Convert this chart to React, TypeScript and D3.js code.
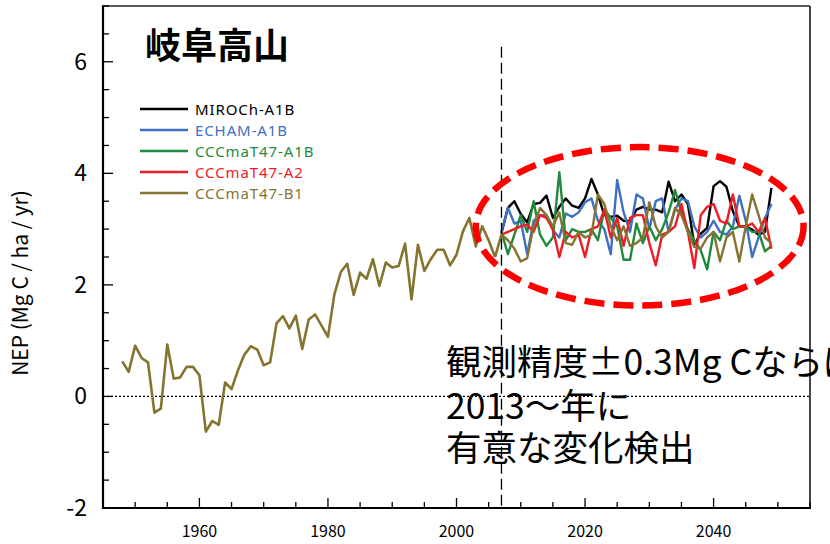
import React from 'react';
import * as d3 from 'd3';

// ---------- data ----------
const HIST_START = 1948;
const histNEP = [
  0.63, 0.44, 0.91, 0.69, 0.61, -0.29, -0.22, 0.93, 0.32, 0.34,
  0.53, 0.53, 0.38, -0.63, -0.44, -0.51, 0.25, 0.13, 0.47, 0.75,
  0.90, 0.84, 0.56, 0.61, 1.31, 1.44, 1.22, 1.45, 0.85, 1.38,
  1.47, 1.27, 1.07, 1.83, 2.23, 2.38, 1.82, 2.22, 2.11, 2.46,
  1.98, 2.40, 2.31, 2.34, 2.74, 1.74, 2.72, 2.25, 2.46, 2.63,
  2.63, 2.35, 2.54, 2.96, 3.20, 2.69, 3.05, 2.80, 2.50,
];

const FUT_START = 2007;
const mirocA1B = [
  2.93, 3.38, 3.50, 3.27, 3.12, 3.45, 3.47, 3.60, 3.20, 3.40,
  3.55, 3.42, 3.38, 3.55, 3.90, 3.62, 3.25, 3.22, 3.24, 3.15,
  3.14, 3.35, 3.40, 3.35, 3.35, 3.30, 3.85, 3.50, 3.62, 3.45,
  2.72, 2.92, 3.02, 3.77, 3.86, 3.76, 3.32, 3.05, 3.05, 2.99,
  2.90, 2.95, 3.74,
];
const echamA1B = [
  2.95, 3.38, 3.10, 3.15, 2.55, 3.15, 3.25, 3.25, 2.98, 2.85,
  3.28, 3.22, 3.30, 3.48, 3.55, 3.15, 3.00, 2.55, 3.88, 3.30,
  2.95, 3.62, 3.55, 3.00, 3.50, 3.55, 2.95, 3.35, 3.55, 3.50,
  3.05, 2.85, 2.95, 3.15, 2.95, 2.90, 3.05, 3.60, 3.15, 2.50,
  2.85, 3.20, 3.45,
];
const cccmaA1B = [
  2.95, 2.55, 2.90, 3.25, 2.95, 3.50, 2.90, 2.70, 2.85, 4.02,
  2.80, 3.00, 2.95, 2.95, 3.00, 2.80, 3.35, 3.20, 3.05, 2.45,
  2.45, 3.10, 2.75, 3.05, 2.80, 3.00, 3.30, 3.70, 3.30, 3.00,
  2.80, 2.62, 2.28, 2.95, 2.80, 3.15, 3.00, 3.05, 3.05, 2.95,
  2.95, 2.60, 2.70,
];
const cccmaA2 = [
  2.90, 2.95, 3.00, 3.05, 3.08, 2.95, 3.25, 3.20, 3.00, 2.50,
  2.95, 2.85, 2.90, 2.50, 3.00, 3.05, 3.35, 2.85, 3.20, 2.70,
  3.20, 3.25, 3.25, 2.75, 2.35, 2.90, 2.95, 3.05, 3.45, 2.95,
  2.30, 3.25, 3.40, 3.45, 3.15, 3.10, 3.62, 3.05, 3.05, 3.10,
  2.95, 3.20, 2.65,
];
const cccmaB1 = [
  2.90, 2.80, 2.65, 2.42, 2.48, 3.05, 3.38, 3.25, 3.05, 3.30,
  2.75, 2.72, 2.95, 2.85, 2.90, 3.62, 3.45, 3.05, 2.80, 3.05,
  2.70, 2.75, 2.85, 3.48, 3.05, 2.85, 2.95, 3.38, 3.25, 2.95,
  2.68, 2.65, 2.85, 2.95, 2.42, 2.85, 2.95, 2.42, 3.05, 3.62,
  3.25, 2.85, 2.75,
];

const seriesNames = ['MIROCh-A1B', 'ECHAM-A1B', 'CCCmaT47-A1B', 'CCCmaT47-A2', 'CCCmaT47-B1'];
const seriesValues = [mirocA1B, echamA1B, cccmaA1B, cccmaA2, cccmaB1];
const seriesColors = ['#000000', '#3d6fc2', '#1f8a3c', '#ee1c25', '#857330'];
const HIST_COLOR = '#857330';

const xTickLabels = [1960, 1980, 2000, 2020, 2040];
const yTickLabels = [-2, 0, 2, 4, 6];

const TITLE = '岐阜高山';
const Y_LABEL = 'NEP (Mg C / ha / yr)';
const NOTE_LINES = ['観測精度±0.3Mg Cならば', '2013〜年に', '有意な変化検出'];
const SPLIT_YEAR = 2007;

// ---------- component ----------
export default function App() {
  const W = 830, H = 544;
  const left = 103, right = 810, top = 6, bottom = 508;
  const x = d3.scaleLinear().domain([1945, 2055]).range([left, right]);
  const y = d3.scaleLinear().domain([-2, 7]).range([bottom, top]);

  const line = d3.line<[number, number]>().x(d => x(d[0])).y(d => y(d[1]));
  const histPts: [number, number][] = histNEP.map((v, i) => [HIST_START + i, v]);
  const futPts = seriesValues.map(vals => vals.map((v, i) => [FUT_START + i, v] as [number, number]));
  // B1 continues the historical line
  const histToB1: [number, number][] = [histPts[histPts.length - 1], futPts[4][0]];

  const xMinor = d3.range(1945, 2056, 5);
  const yMinor = d3.range(-2, 7.01, 0.5);

  const font = "'Noto Sans CJK JP', 'Noto Sans', sans-serif";
  const drawOrder = [0, 1, 2, 3, 4];

  const ellCx = x(2028.5), ellCy = y(3.05);
  const ellRx = x(2054) - x(2028.5), ellRy = y(3.05 - 1.42) - y(3.05);

  return (
    <svg width={W} height={H} style={{ position: 'absolute', left: 0, top: 0, background: '#fff' }} fontFamily={font}>
      <rect x={0} y={0} width={W} height={H} fill="#fff" />
      {/* zero line */}
      <line x1={left} x2={right} y1={y(0)} y2={y(0)} stroke="#000" strokeWidth={1.2} strokeDasharray="2,2" />

      {/* historical */}
      <path d={line(histPts) || ''} fill="none" stroke={HIST_COLOR} strokeWidth={2.6} strokeLinejoin="round" />
      <path d={line(histToB1) || ''} fill="none" stroke={HIST_COLOR} strokeWidth={2.6} />

      {/* scenarios */}
      {drawOrder.map(k => (
        <path key={k} d={line(futPts[k]) || ''} fill="none" stroke={seriesColors[k]} strokeWidth={2.4} strokeLinejoin="round" />
      ))}

      {/* split line */}
      <line x1={x(SPLIT_YEAR)} x2={x(SPLIT_YEAR)} y1={y(6.27)} y2={bottom} stroke="#000" strokeWidth={1.3} strokeDasharray="11,5" />

      {/* ellipse */}
      <ellipse cx={ellCx} cy={ellCy} rx={ellRx} ry={ellRy} fill="none" stroke="#ff0000" strokeWidth={6.5} strokeDasharray="20,9" />

      {/* frame */}
      <line x1={left} x2={right} y1={top} y2={top} stroke="#222" strokeWidth={1.5} />
      <line x1={right} x2={right} y1={top} y2={bottom} stroke="#333" strokeWidth={1.8} />
      <line x1={left} x2={left} y1={top - 0.75} y2={bottom + 1} stroke="#000" strokeWidth={2.2} />
      <line x1={left - 1} x2={right + 1} y1={bottom} y2={bottom} stroke="#000" strokeWidth={2.2} />

      {/* x ticks */}
      {xMinor.map(t => {
        const major = xTickLabels.includes(t);
        return <line key={'xt' + t} x1={x(t)} x2={x(t)} y1={bottom} y2={bottom - (major ? 10 : 6)} stroke="#000" strokeWidth={1.3} />;
      })}
      {xTickLabels.map(t => (
        <text key={'xl' + t} x={x(t)} y={537} textAnchor="middle" fontSize={16} fill="#000">{t}</text>
      ))}

      {/* y ticks */}
      {yMinor.map(t => {
        const major = yTickLabels.includes(Math.round(t * 10) / 10);
        return <line key={'yt' + t} x1={left} x2={left + (major ? 10 : 6)} y1={y(t)} y2={y(t)} stroke="#000" strokeWidth={1.3} />;
      })}
      {yTickLabels.map(t => (
        <text key={'yl' + t} x={87} y={y(t) + 8} textAnchor="end" fontSize={23} fill="#000">{t}</text>
      ))}

      {/* y label */}
      <text transform={`translate(28,${283}) rotate(-90)`} textAnchor="middle" fontSize={21} fill="#000">{Y_LABEL}</text>

      {/* title */}
      <text x={145} y={59} fontSize={36} fontWeight="bold" fill="#000">{TITLE}</text>

      {/* legend */}
      {seriesNames.map((n, i) => (
        <g key={n}>
          <line x1={140} x2={188} y1={109 + i * 21} y2={109 + i * 21} stroke={seriesColors[i]} strokeWidth={2.6} />
          <text x={195} y={114.5 + i * 21} fontSize={15} letterSpacing={0.9} fontFamily="'Noto Sans', sans-serif" fill={seriesColors[i]}>{n}</text>
        </g>
      ))}

      {/* annotation (single text block, clipped at the right edge like the reference) */}
      <text x={446} y={375} fontSize={35.5} fill="#000">
        {NOTE_LINES.map((s, i) => (
          <tspan key={'n' + i} x={446} y={[375, 419, 461][i]}>{s}</tspan>
        ))}
      </text>
    </svg>
  );
}
